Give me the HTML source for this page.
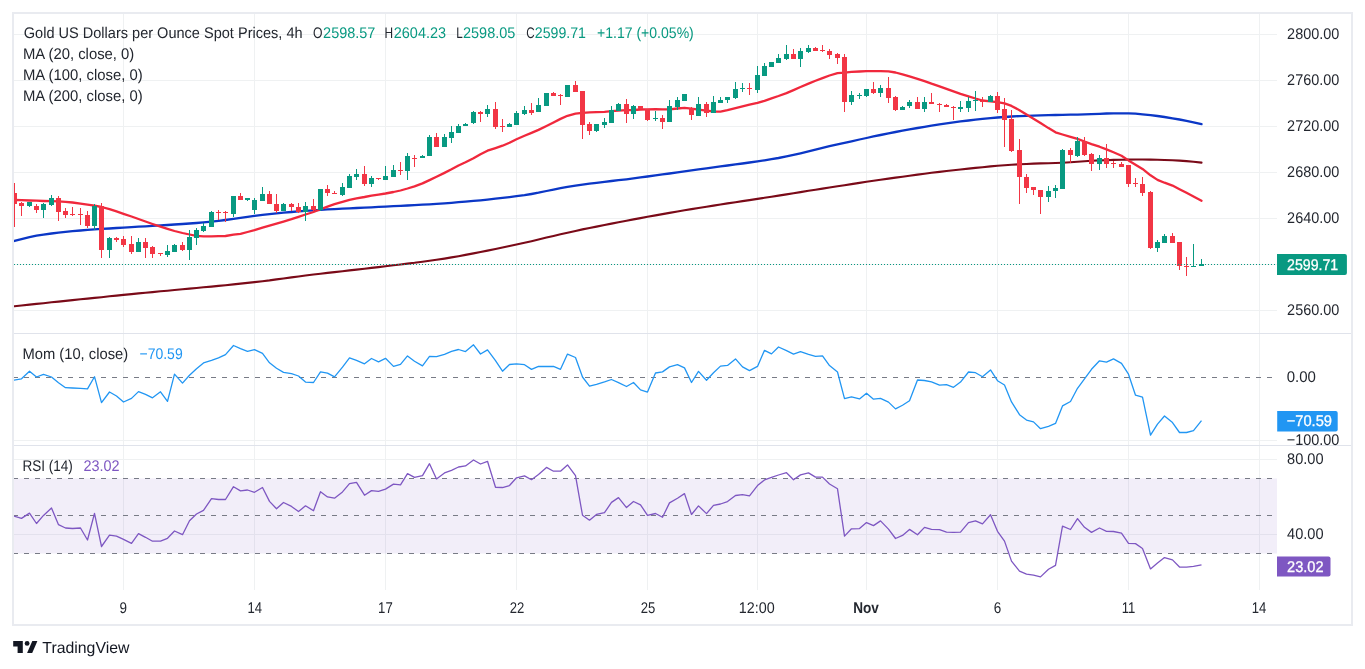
<!DOCTYPE html>
<html><head><meta charset="utf-8"><style>
html,body{margin:0;padding:0;background:#fff;width:1365px;height:669px;overflow:hidden}
svg{display:block;font-family:"Liberation Sans", sans-serif}
text{text-rendering:geometricPrecision}
svg{will-change:transform}
</style></head><body>
<svg width="1365" height="669" viewBox="0 0 1365 669">
<defs><clipPath id="cm"><rect x="14" y="14" width="1263" height="319"/></clipPath><clipPath id="cp"><rect x="14" y="334" width="1263" height="111"/></clipPath><clipPath id="cr"><rect x="14" y="446" width="1263" height="144"/></clipPath></defs>
<path d="M14 34.5H1277M14 80.5H1277M14 126.5H1277M14 172.5H1277M14 218.5H1277M14 264.5H1277M14 310.5H1277M14 440.5H1277M14 459.5H1277M14 534.5H1277M123.5 14V590M254.5 14V590M385.5 14V590M516.5 14V590M647.5 14V590M757.5 14V590M866.5 14V590M997.5 14V590M1128.5 14V590M1259.5 14V590" stroke="#eff1f2" stroke-width="1" fill="none"/>
<rect x="14" y="478.5" width="1263" height="75" fill="#7e57c2" fill-opacity="0.1"/>
<path d="M13 478.5H1277M13 515.5H1277M13 553.5H1277M13 377.5H1277" stroke="#787b86" stroke-width="1" stroke-dasharray="5 6"/>
<path d="M13 333.5H1352M13 445.5H1352" stroke="#e0e3eb" stroke-width="1"/>
<g clip-path="url(#cm)" fill="none" stroke-linejoin="round" stroke-linecap="round">
<path d="M12.0 306.5L14.5 306.2L21.5 305.5L29.5 304.6L36.5 303.9L43.5 303.2L51.5 302.3L58.5 301.6L65.5 300.9L72.5 300.1L80.5 299.3L87.5 298.6L94.5 297.9L101.5 297.2L109.5 296.3L116.5 295.6L123.5 294.9L131.5 294.1L138.5 293.4L145.5 292.7L152.5 292.1L160.5 291.3L167.5 290.7L174.5 290.0L182.5 289.3L189.5 288.6L196.5 288.0L203.5 287.3L211.5 286.6L218.5 285.9L225.5 285.2L233.5 284.4L240.5 283.6L247.5 282.9L254.5 282.1L262.5 281.2L269.5 280.4L276.5 279.4L283.5 278.5L291.5 277.4L298.5 276.5L305.5 275.5L313.5 274.5L320.5 273.7L327.5 272.9L334.5 272.1L342.5 271.2L349.5 270.4L356.5 269.6L364.5 268.7L371.5 267.9L378.5 267.1L385.5 266.2L393.5 265.3L400.5 264.5L407.5 263.6L414.5 262.8L422.5 261.7L429.5 260.8L436.5 259.8L444.5 258.6L451.5 257.4L458.5 256.2L465.5 254.9L473.5 253.4L480.5 252.0L487.5 250.6L495.5 249.0L502.5 247.5L509.5 246.0L516.5 244.5L524.5 242.8L531.5 241.2L538.5 239.6L546.5 237.6L553.5 236.0L560.5 234.3L567.5 232.7L575.5 230.9L582.5 229.4L589.5 228.0L596.5 226.6L604.5 225.0L611.5 223.6L618.5 222.2L626.5 220.7L633.5 219.4L640.5 218.1L647.5 216.8L655.5 215.4L662.5 214.1L669.5 212.9L677.5 211.5L684.5 210.3L691.5 209.1L698.5 208.0L706.5 206.7L713.5 205.6L720.5 204.5L727.5 203.4L735.5 202.2L742.5 201.1L749.5 200.1L757.5 198.9L764.5 197.8L771.5 196.7L778.5 195.6L786.5 194.4L793.5 193.3L800.5 192.1L808.5 190.8L815.5 189.7L822.5 188.6L829.5 187.5L837.5 186.3L844.5 185.2L851.5 184.1L859.5 182.9L866.5 181.8L873.5 180.8L880.5 179.7L888.5 178.6L895.5 177.6L902.5 176.7L909.5 175.7L917.5 174.6L924.5 173.7L931.5 172.8L939.5 171.9L946.5 171.0L953.5 170.2L960.5 169.5L968.5 168.6L975.5 167.9L982.5 167.2L990.5 166.4L997.5 165.8L1004.5 165.3L1011.5 164.8L1019.5 164.3L1026.5 164.0L1033.5 163.6L1040.5 163.4L1048.5 163.2L1055.5 163.0L1062.5 162.7L1070.5 162.3L1077.5 161.8L1084.5 161.2L1091.5 160.8L1099.5 160.4L1106.5 160.2L1113.5 159.9L1121.5 159.7L1128.5 159.6L1135.5 159.5L1142.5 159.5L1150.5 159.6L1157.5 159.8L1164.5 160.0L1172.5 160.3L1179.5 160.6L1186.5 161.1L1193.5 161.7L1201.5 162.6" stroke="#7a0a18" stroke-width="2.1"/>
<path d="M12.0 241.6L14.5 240.9L21.5 239.1L29.5 237.1L36.5 235.7L43.5 234.6L51.5 233.5L58.5 232.6L65.5 231.9L72.5 231.2L80.5 230.5L87.5 229.9L94.5 229.4L101.5 228.9L109.5 228.5L116.5 228.0L123.5 227.6L131.5 227.1L138.5 226.7L145.5 226.3L152.5 225.9L160.5 225.4L167.5 225.0L174.5 224.5L182.5 224.0L189.5 223.5L196.5 223.0L203.5 222.4L211.5 221.7L218.5 220.9L225.5 220.0L233.5 218.8L240.5 217.8L247.5 216.8L254.5 215.8L262.5 214.9L269.5 214.2L276.5 213.4L283.5 212.7L291.5 212.0L298.5 211.4L305.5 210.8L313.5 210.3L320.5 209.8L327.5 209.4L334.5 209.1L342.5 208.7L349.5 208.3L356.5 208.0L364.5 207.7L371.5 207.3L378.5 206.9L385.5 206.6L393.5 206.2L400.5 205.9L407.5 205.5L414.5 205.1L422.5 204.7L429.5 204.3L436.5 203.8L444.5 203.3L451.5 202.8L458.5 202.2L465.5 201.6L473.5 200.9L480.5 200.3L487.5 199.6L495.5 198.7L502.5 197.9L509.5 197.1L516.5 196.2L524.5 195.2L531.5 194.0L538.5 192.7L546.5 191.0L553.5 189.6L560.5 188.2L567.5 186.9L575.5 185.6L582.5 184.6L589.5 183.7L596.5 182.8L604.5 181.9L611.5 181.0L618.5 180.2L626.5 179.3L633.5 178.4L640.5 177.4L647.5 176.5L655.5 175.4L662.5 174.4L669.5 173.5L677.5 172.3L684.5 171.4L691.5 170.4L698.5 169.4L706.5 168.3L713.5 167.3L720.5 166.4L727.5 165.5L735.5 164.4L742.5 163.5L749.5 162.5L757.5 161.4L764.5 160.3L771.5 159.2L778.5 158.0L786.5 156.4L793.5 154.9L800.5 153.3L808.5 151.4L815.5 149.6L822.5 147.9L829.5 146.2L837.5 144.4L844.5 142.9L851.5 141.3L859.5 139.5L866.5 138.0L873.5 136.4L880.5 135.0L888.5 133.4L895.5 132.0L902.5 130.7L909.5 129.4L917.5 128.0L924.5 126.8L931.5 125.6L939.5 124.3L946.5 123.3L953.5 122.3L960.5 121.4L968.5 120.5L975.5 119.7L982.5 118.9L990.5 118.1L997.5 117.5L1004.5 117.0L1011.5 116.5L1019.5 116.1L1026.5 115.9L1033.5 115.6L1040.5 115.4L1048.5 115.2L1055.5 115.0L1062.5 114.9L1070.5 114.7L1077.5 114.6L1084.5 114.4L1091.5 114.2L1099.5 113.8L1106.5 113.5L1113.5 113.3L1121.5 113.3L1128.5 113.3L1135.5 113.6L1142.5 114.3L1150.5 115.1L1157.5 116.0L1164.5 117.0L1172.5 118.3L1179.5 119.5L1186.5 120.9L1193.5 122.3L1201.5 124.2" stroke="#0b37c6" stroke-width="2.3"/>
<path d="M12.0 199.9L14.5 200.0L21.5 200.2L29.5 200.5L36.5 200.7L43.5 201.0L51.5 201.2L58.5 201.4L65.5 201.8L72.5 202.5L80.5 203.6L87.5 204.6L94.5 205.7L101.5 207.0L109.5 209.1L116.5 211.4L123.5 213.8L131.5 216.5L138.5 219.0L145.5 221.5L152.5 224.0L160.5 226.7L167.5 228.9L174.5 231.0L182.5 233.0L189.5 234.5L196.5 235.9L203.5 236.4L211.5 236.3L218.5 236.2L225.5 236.0L233.5 234.7L240.5 233.9L247.5 232.0L254.5 230.1L262.5 227.6L269.5 225.6L276.5 223.6L283.5 221.6L291.5 219.2L298.5 216.9L305.5 214.5L313.5 212.0L320.5 209.3L327.5 206.6L334.5 204.2L342.5 201.9L349.5 199.9L356.5 198.4L364.5 197.0L371.5 195.6L378.5 194.6L385.5 193.5L393.5 192.0L400.5 190.5L407.5 188.5L414.5 186.3L422.5 183.4L429.5 180.1L436.5 176.8L444.5 172.9L451.5 169.3L458.5 165.5L465.5 162.3L473.5 158.3L480.5 154.2L487.5 150.7L495.5 148.1L502.5 145.7L509.5 142.7L516.5 139.3L524.5 135.8L531.5 132.9L538.5 129.9L546.5 126.0L553.5 122.4L560.5 118.9L567.5 115.8L575.5 113.7L582.5 112.8L589.5 112.4L596.5 112.1L604.5 111.8L611.5 111.2L618.5 110.6L626.5 110.2L633.5 110.0L640.5 109.5L647.5 109.3L655.5 109.2L662.5 109.4L669.5 109.3L677.5 108.5L684.5 107.9L691.5 108.7L698.5 109.7L706.5 110.7L713.5 111.5L720.5 111.7L727.5 110.2L735.5 108.1L742.5 106.4L749.5 104.7L757.5 102.8L764.5 100.8L771.5 98.3L778.5 96.0L786.5 93.1L793.5 90.1L800.5 87.0L808.5 83.6L815.5 80.8L822.5 78.1L829.5 75.5L837.5 73.1L844.5 72.7L851.5 71.9L859.5 71.5L866.5 71.2L873.5 71.1L880.5 71.1L888.5 71.3L895.5 72.5L902.5 74.4L909.5 76.4L917.5 78.8L924.5 81.2L931.5 83.7L939.5 86.3L946.5 88.9L953.5 91.4L960.5 93.9L968.5 96.3L975.5 98.5L982.5 100.5L990.5 101.3L997.5 102.2L1004.5 103.3L1011.5 105.9L1019.5 110.2L1026.5 114.5L1033.5 118.7L1040.5 123.0L1048.5 128.1L1055.5 132.3L1062.5 134.5L1070.5 136.9L1077.5 138.9L1084.5 141.5L1091.5 144.1L1099.5 146.7L1106.5 149.4L1113.5 152.3L1121.5 155.8L1128.5 160.4L1135.5 164.7L1142.5 168.9L1150.5 175.3L1157.5 179.9L1164.5 182.7L1172.5 185.6L1179.5 189.2L1186.5 192.7L1193.5 196.4L1201.5 200.7" stroke="#f0283c" stroke-width="2.3"/>
</g>
<g clip-path="url(#cm)">
<path d="M29 202h1V207h-1ZM27 202h5V206h-5ZM43 203h1V218h-1ZM41 204h5V210h-5ZM51 195h1V206h-1ZM49 198h5V205h-5ZM94 204h1V230h-1ZM92 206h5V226h-5ZM109 237h1V258h-1ZM107 238h5V250h-5ZM138 238h1V252h-1ZM136 242h5V252h-5ZM167 245h1V257h-1ZM165 251h5V255h-5ZM174 244h1V252h-1ZM172 245h5V252h-5ZM189 230h1V260h-1ZM187 237h5V250h-5ZM196 228h1V245h-1ZM194 230h5V238h-5ZM203 223h1V232h-1ZM201 226h5V231h-5ZM211 211h1V227h-1ZM209 212h5V227h-5ZM233 196h1V217h-1ZM231 196h5V214h-5ZM247 198h1V201h-1ZM245 198h5V200h-5ZM254 198h1V214h-1ZM252 200h5V210h-5ZM262 187h1V201h-1ZM260 194h5V201h-5ZM283 203h1V211h-1ZM281 204h5V211h-5ZM305 202h1V221h-1ZM303 206h5V212h-5ZM320 189h1V211h-1ZM318 189h5V210h-5ZM342 183h1V196h-1ZM340 187h5V195h-5ZM349 174h1V188h-1ZM347 176h5V188h-5ZM356 169h1V180h-1ZM354 174h5V177h-5ZM371 176h1V187h-1ZM369 178h5V184h-5ZM385 166h1V180h-1ZM383 176h5V180h-5ZM393 165h1V177h-1ZM391 170h5V177h-5ZM407 153h1V180h-1ZM405 156h5V171h-5ZM422 155h1V158h-1ZM420 156h5V158h-5ZM429 135h1V156h-1ZM427 137h5V156h-5ZM444 134h1V147h-1ZM442 137h5V147h-5ZM451 126h1V143h-1ZM449 132h5V138h-5ZM458 124h1V133h-1ZM456 126h5V133h-5ZM465 123h1V126h-1ZM463 124h5V126h-5ZM473 111h1V124h-1ZM471 112h5V123h-5ZM487 105h1V117h-1ZM485 109h5V114h-5ZM509 123h1V127h-1ZM507 124h5V127h-5ZM516 111h1V125h-1ZM514 113h5V125h-5ZM524 106h1V115h-1ZM522 110h5V114h-5ZM538 98h1V112h-1ZM536 105h5V112h-5ZM546 93h1V106h-1ZM544 93h5V106h-5ZM567 85h1V97h-1ZM565 85h5V97h-5ZM596 124h1V132h-1ZM594 124h5V131h-5ZM604 118h1V128h-1ZM602 122h5V125h-5ZM611 106h1V123h-1ZM609 110h5V123h-5ZM618 103h1V111h-1ZM616 104h5V111h-5ZM633 105h1V119h-1ZM631 106h5V114h-5ZM655 111h1V121h-1ZM653 118h5V119h-5ZM669 100h1V122h-1ZM667 106h5V122h-5ZM677 97h1V110h-1ZM675 100h5V107h-5ZM684 94h1V101h-1ZM682 94h5V101h-5ZM698 97h1V116h-1ZM696 104h5V116h-5ZM713 96h1V113h-1ZM711 102h5V113h-5ZM720 97h1V103h-1ZM718 100h5V103h-5ZM727 97h1V103h-1ZM725 97h5V100h-5ZM735 82h1V99h-1ZM733 89h5V98h-5ZM742 83h1V92h-1ZM740 88h5V89h-5ZM757 66h1V93h-1ZM755 75h5V90h-5ZM764 63h1V76h-1ZM762 66h5V76h-5ZM771 62h1V67h-1ZM769 62h5V67h-5ZM778 54h1V63h-1ZM776 58h5V63h-5ZM786 45h1V60h-1ZM784 54h5V59h-5ZM800 48h1V67h-1ZM798 51h5V59h-5ZM808 45h1V53h-1ZM806 48h5V52h-5ZM851 91h1V105h-1ZM849 95h5V102h-5ZM859 93h1V99h-1ZM857 95h5V96h-5ZM866 89h1V97h-1ZM864 89h5V96h-5ZM880 85h1V97h-1ZM878 88h5V93h-5ZM902 106h1V110h-1ZM900 107h5V110h-5ZM909 100h1V108h-1ZM907 102h5V106h-5ZM924 97h1V112h-1ZM922 102h5V109h-5ZM960 101h1V112h-1ZM958 107h5V109h-5ZM968 97h1V112h-1ZM966 101h5V108h-5ZM975 91h1V111h-1ZM973 100h5V101h-5ZM990 95h1V102h-1ZM988 96h5V102h-5ZM1048 186h1V202h-1ZM1046 191h5V197h-5ZM1055 185h1V198h-1ZM1053 188h5V191h-5ZM1062 149h1V189h-1ZM1060 150h5V189h-5ZM1077 137h1V157h-1ZM1075 141h5V156h-5ZM1099 155h1V170h-1ZM1097 158h5V164h-5ZM1157 240h1V252h-1ZM1155 242h5V248h-5ZM1164 234h1V243h-1ZM1162 236h5V243h-5ZM1193 244h1V267h-1ZM1191 266h5V267h-5ZM1201 259h1V266h-1ZM1199 264h5V266h-5Z" fill="#089981"/>
<path d="M14 183h1V227h-1ZM12 193h5V204h-5ZM21 202h1V216h-1ZM19 203h5V206h-5ZM36 204h1V213h-1ZM34 206h5V210h-5ZM58 196h1V221h-1ZM56 198h5V212h-5ZM65 208h1V218h-1ZM63 211h5V215h-5ZM72 207h1V216h-1ZM70 214h5V215h-5ZM80 208h1V225h-1ZM78 214h5V215h-5ZM87 211h1V228h-1ZM85 215h5V226h-5ZM101 203h1V258h-1ZM99 206h5V250h-5ZM116 237h1V242h-1ZM114 238h5V240h-5ZM123 236h1V247h-1ZM121 239h5V245h-5ZM131 236h1V254h-1ZM129 244h5V252h-5ZM145 238h1V258h-1ZM143 242h5V248h-5ZM152 246h1V258h-1ZM150 247h5V254h-5ZM160 253h1V256h-1ZM158 253h5V254h-5ZM182 242h1V251h-1ZM180 245h5V250h-5ZM218 210h1V220h-1ZM216 212h5V213h-5ZM225 211h1V222h-1ZM223 212h5V213h-5ZM240 193h1V200h-1ZM238 196h5V200h-5ZM269 191h1V204h-1ZM267 194h5V204h-5ZM276 194h1V213h-1ZM274 204h5V211h-5ZM291 203h1V211h-1ZM289 204h5V207h-5ZM298 203h1V213h-1ZM296 207h5V212h-5ZM313 199h1V211h-1ZM311 206h5V210h-5ZM327 185h1V196h-1ZM325 189h5V193h-5ZM334 191h1V194h-1ZM332 193h5V194h-5ZM364 166h1V186h-1ZM362 174h5V184h-5ZM378 178h1V180h-1ZM376 178h5V179h-5ZM400 162h1V175h-1ZM398 170h5V171h-5ZM414 155h1V167h-1ZM412 158h5V159h-5ZM436 133h1V147h-1ZM434 137h5V147h-5ZM480 111h1V122h-1ZM478 112h5V114h-5ZM495 102h1V129h-1ZM493 109h5V127h-5ZM502 119h1V132h-1ZM500 126h5V127h-5ZM531 103h1V115h-1ZM529 110h5V113h-5ZM553 92h1V96h-1ZM551 93h5V96h-5ZM560 94h1V105h-1ZM558 95h5V96h-5ZM575 81h1V92h-1ZM573 85h5V92h-5ZM582 91h1V139h-1ZM580 91h5V125h-5ZM589 122h1V135h-1ZM587 124h5V131h-5ZM626 99h1V123h-1ZM624 104h5V114h-5ZM640 106h1V109h-1ZM638 106h5V109h-5ZM647 109h1V121h-1ZM645 109h5V120h-5ZM662 115h1V129h-1ZM660 118h5V122h-5ZM691 107h1V120h-1ZM689 108h5V115h-5ZM706 102h1V117h-1ZM704 104h5V113h-5ZM749 83h1V95h-1ZM747 88h5V89h-5ZM793 49h1V59h-1ZM791 54h5V59h-5ZM815 47h1V51h-1ZM813 48h5V51h-5ZM822 45h1V52h-1ZM820 50h5V51h-5ZM829 49h1V59h-1ZM827 51h5V55h-5ZM837 53h1V64h-1ZM835 54h5V58h-5ZM844 54h1V112h-1ZM842 57h5V102h-5ZM873 82h1V94h-1ZM871 89h5V93h-5ZM888 77h1V103h-1ZM886 88h5V98h-5ZM895 96h1V111h-1ZM893 97h5V110h-5ZM917 97h1V109h-1ZM915 102h5V109h-5ZM931 93h1V104h-1ZM929 102h5V104h-5ZM939 103h1V112h-1ZM937 104h5V105h-5ZM946 104h1V107h-1ZM944 105h5V107h-5ZM953 106h1V120h-1ZM951 107h5V108h-5ZM982 97h1V107h-1ZM980 101h5V102h-5ZM997 92h1V113h-1ZM995 96h5V110h-5ZM1004 98h1V147h-1ZM1002 109h5V120h-5ZM1011 110h1V152h-1ZM1009 119h5V151h-5ZM1019 139h1V204h-1ZM1017 150h5V177h-5ZM1026 174h1V193h-1ZM1024 177h5V188h-5ZM1033 187h1V195h-1ZM1031 187h5V190h-5ZM1040 190h1V214h-1ZM1038 190h5V197h-5ZM1070 148h1V163h-1ZM1068 150h5V155h-5ZM1084 137h1V156h-1ZM1082 141h5V155h-5ZM1091 153h1V171h-1ZM1089 154h5V164h-5ZM1106 144h1V168h-1ZM1104 158h5V164h-5ZM1113 161h1V168h-1ZM1111 163h5V164h-5ZM1121 162h1V167h-1ZM1119 164h5V167h-5ZM1128 165h1V187h-1ZM1126 165h5V184h-5ZM1135 178h1V187h-1ZM1133 183h5V184h-5ZM1142 177h1V196h-1ZM1140 184h5V193h-5ZM1150 191h1V249h-1ZM1148 192h5V248h-5ZM1172 233h1V243h-1ZM1170 236h5V243h-5ZM1179 242h1V270h-1ZM1177 242h5V266h-5ZM1186 257h1V276h-1ZM1184 266h5V267h-5Z" fill="#f23645"/>
</g>
<path d="M14 264.5H1277" stroke="#089981" stroke-width="1" stroke-dasharray="1 2"/>
<g clip-path="url(#cp)"><path d="M12.0 380.4L21.5 378.8L29.5 371.3L36.5 377.0L43.5 374.3L51.5 377.0L58.5 382.7L65.5 387.7L72.5 388.0L80.5 388.3L87.5 388.9L94.5 376.7L101.5 402.7L109.5 392.0L116.5 396.0L123.5 402.0L131.5 398.4L138.5 391.6L145.5 394.3L152.5 397.8L160.5 391.8L167.5 401.4L174.5 374.1L182.5 383.1L189.5 375.3L196.5 368.7L203.5 362.9L211.5 360.4L218.5 357.9L225.5 354.6L233.5 345.5L240.5 348.6L247.5 351.3L254.5 349.7L262.5 353.4L269.5 362.8L276.5 368.3L283.5 372.4L291.5 373.7L298.5 376.0L305.5 382.1L313.5 382.5L320.5 371.8L327.5 373.1L334.5 376.9L342.5 367.2L349.5 357.9L356.5 360.4L364.5 363.8L371.5 358.5L378.5 361.8L385.5 358.3L393.5 366.4L400.5 364.4L407.5 355.9L414.5 361.2L422.5 365.9L429.5 356.4L436.5 356.6L444.5 354.3L451.5 351.4L458.5 349.5L465.5 351.6L473.5 344.8L480.5 354.0L487.5 349.9L495.5 360.6L502.5 371.2L509.5 364.5L516.5 363.8L524.5 364.7L531.5 369.4L538.5 366.3L546.5 366.5L553.5 366.4L560.5 369.3L567.5 354.1L575.5 357.5L582.5 377.0L589.5 386.2L596.5 384.3L604.5 381.9L611.5 379.5L618.5 382.6L626.5 386.5L633.5 382.5L640.5 389.9L647.5 392.1L655.5 373.0L662.5 371.9L669.5 366.9L677.5 364.6L684.5 367.9L691.5 382.5L698.5 371.4L706.5 380.2L713.5 372.8L720.5 366.1L727.5 365.4L735.5 358.9L742.5 366.9L749.5 370.6L757.5 366.4L764.5 350.3L771.5 353.9L778.5 347.0L786.5 350.6L793.5 354.1L800.5 351.7L808.5 354.4L815.5 356.4L822.5 355.9L829.5 365.6L837.5 372.0L844.5 398.7L851.5 396.9L859.5 398.9L866.5 393.2L873.5 399.2L880.5 398.4L888.5 402.1L895.5 408.9L902.5 405.2L909.5 400.8L917.5 380.0L924.5 380.5L931.5 381.9L939.5 385.2L946.5 384.7L953.5 387.3L960.5 382.1L968.5 372.0L975.5 372.7L982.5 376.8L990.5 369.9L997.5 380.7L1004.5 385.0L1011.5 401.9L1019.5 414.7L1026.5 420.1L1033.5 421.9L1040.5 428.7L1048.5 426.3L1055.5 423.4L1062.5 405.9L1070.5 401.5L1077.5 388.3L1084.5 378.8L1091.5 369.3L1099.5 360.8L1106.5 362.1L1113.5 358.9L1121.5 363.4L1128.5 374.2L1135.5 395.2L1142.5 397.1L1150.5 435.1L1157.5 424.1L1164.5 416.0L1172.5 422.6L1179.5 432.5L1186.5 432.5L1193.5 430.7L1201.5 420.7" stroke="#2196f3" stroke-width="1.3" fill="none" stroke-linejoin="round"/></g>
<g clip-path="url(#cr)"><path d="M12.0 515.5L21.5 518.4L29.5 513.1L36.5 523.5L43.5 515.4L51.5 508.0L58.5 524.7L65.5 528.0L72.5 528.5L80.5 528.0L87.5 540.0L94.5 513.4L101.5 546.5L109.5 535.2L116.5 536.2L123.5 539.4L131.5 543.4L138.5 533.7L145.5 537.3L152.5 541.2L160.5 541.2L167.5 538.3L174.5 531.0L182.5 534.7L189.5 520.8L196.5 514.0L203.5 510.4L211.5 498.6L218.5 499.5L225.5 499.5L233.5 486.7L240.5 490.9L247.5 490.0L254.5 492.3L262.5 487.5L269.5 501.4L276.5 508.8L283.5 502.5L291.5 506.4L298.5 511.6L305.5 505.8L313.5 510.7L320.5 491.7L327.5 496.9L334.5 498.2L342.5 491.9L349.5 483.7L356.5 482.3L364.5 495.2L371.5 490.6L378.5 491.4L385.5 489.1L393.5 484.1L400.5 484.8L407.5 473.7L414.5 477.3L422.5 475.6L429.5 463.7L436.5 478.9L444.5 472.9L451.5 470.3L458.5 467.0L465.5 465.9L473.5 460.0L480.5 464.0L487.5 461.3L495.5 487.3L502.5 487.5L509.5 485.5L516.5 477.8L524.5 475.9L531.5 479.7L538.5 474.4L546.5 467.4L553.5 471.2L560.5 471.2L567.5 464.9L575.5 475.7L582.5 515.2L589.5 520.2L596.5 514.4L604.5 512.7L611.5 502.4L618.5 497.6L626.5 507.6L633.5 501.5L640.5 504.8L647.5 515.3L655.5 513.5L662.5 517.3L669.5 502.9L677.5 498.2L684.5 493.6L691.5 514.5L698.5 505.9L706.5 513.6L713.5 505.4L720.5 504.0L727.5 501.6L735.5 495.5L742.5 494.7L749.5 495.8L757.5 485.6L764.5 479.9L771.5 477.4L778.5 475.0L786.5 472.7L793.5 479.8L800.5 474.9L808.5 472.9L815.5 477.1L822.5 477.1L829.5 484.0L837.5 488.8L844.5 536.1L851.5 528.8L859.5 528.6L866.5 522.6L873.5 525.6L880.5 520.9L888.5 529.1L895.5 538.5L902.5 535.4L909.5 529.4L917.5 534.8L924.5 527.4L931.5 529.4L939.5 529.7L946.5 532.2L953.5 532.4L960.5 532.1L968.5 522.7L975.5 520.8L982.5 523.9L990.5 514.7L997.5 531.3L1004.5 541.1L1011.5 561.1L1019.5 571.2L1026.5 574.2L1033.5 575.1L1040.5 576.9L1048.5 569.3L1055.5 565.4L1062.5 526.2L1070.5 529.5L1077.5 518.6L1084.5 527.3L1091.5 532.4L1099.5 528.0L1106.5 531.3L1113.5 531.5L1121.5 533.2L1128.5 543.4L1135.5 543.6L1142.5 548.5L1150.5 568.9L1157.5 563.1L1164.5 557.6L1172.5 559.9L1179.5 567.0L1186.5 567.1L1193.5 566.4L1201.5 564.8" stroke="#7e57c2" stroke-width="1.3" fill="none" stroke-linejoin="round"/></g>
<text x="23.8" y="38" font-size="15.4" fill="#23272f" textLength="278.8" lengthAdjust="spacingAndGlyphs">Gold US Dollars per Ounce Spot Prices, 4h</text>
<text x="312.9" y="38" font-size="15.4" fill="#23272f" textLength="9.5" lengthAdjust="spacingAndGlyphs">O</text>
<text x="323.1" y="38" font-size="15.4" fill="#089981" textLength="52.3" lengthAdjust="spacingAndGlyphs">2598.57</text>
<text x="384.6" y="38" font-size="15.4" fill="#23272f" textLength="8.6" lengthAdjust="spacingAndGlyphs">H</text>
<text x="393.8" y="38" font-size="15.4" fill="#089981" textLength="52.2" lengthAdjust="spacingAndGlyphs">2604.23</text>
<text x="456.3" y="38" font-size="15.4" fill="#23272f" textLength="6.5" lengthAdjust="spacingAndGlyphs">L</text>
<text x="463" y="38" font-size="15.4" fill="#089981" textLength="52.4" lengthAdjust="spacingAndGlyphs">2598.05</text>
<text x="526.2" y="38" font-size="15.4" fill="#23272f" textLength="8.4" lengthAdjust="spacingAndGlyphs">C</text>
<text x="534.8" y="38" font-size="15.4" fill="#089981" textLength="51.2" lengthAdjust="spacingAndGlyphs">2599.71</text>
<text x="597" y="38" font-size="15.4" fill="#089981" textLength="96.8" lengthAdjust="spacingAndGlyphs">+1.17 (+0.05%)</text>
<text x="22.9" y="59" font-size="15.4" fill="#23272f" textLength="111.4" lengthAdjust="spacingAndGlyphs">MA (20, close, 0)</text>
<text x="22.9" y="80" font-size="15.4" fill="#23272f" textLength="119.8" lengthAdjust="spacingAndGlyphs">MA (100, close, 0)</text>
<text x="22.9" y="101" font-size="15.4" fill="#23272f" textLength="119.8" lengthAdjust="spacingAndGlyphs">MA (200, close, 0)</text>
<text x="22.4" y="358.7" font-size="15.4" fill="#23272f" textLength="105.8" lengthAdjust="spacingAndGlyphs">Mom (10, close)</text>
<text x="139.5" y="358.7" font-size="15.4" fill="#2196f3" textLength="43.2" lengthAdjust="spacingAndGlyphs">−70.59</text>
<text x="22.4" y="470.8" font-size="15.4" fill="#23272f" textLength="50.4" lengthAdjust="spacingAndGlyphs">RSI (14)</text>
<text x="83.4" y="470.8" font-size="15.4" fill="#7e57c2" textLength="36.2" lengthAdjust="spacingAndGlyphs">23.02</text>
<text x="1287.1" y="38.800000000000004" font-size="15.5" fill="#23272f" textLength="52.2" lengthAdjust="spacingAndGlyphs">2800.00</text>
<text x="1287.1" y="84.8" font-size="15.5" fill="#23272f" textLength="52.2" lengthAdjust="spacingAndGlyphs">2760.00</text>
<text x="1287.1" y="130.5" font-size="15.5" fill="#23272f" textLength="52.2" lengthAdjust="spacingAndGlyphs">2720.00</text>
<text x="1287.1" y="176.7" font-size="15.5" fill="#23272f" textLength="52.2" lengthAdjust="spacingAndGlyphs">2680.00</text>
<text x="1287.1" y="222.6" font-size="15.5" fill="#23272f" textLength="52.2" lengthAdjust="spacingAndGlyphs">2640.00</text>
<text x="1287.1" y="314.8" font-size="15.5" fill="#23272f" textLength="52.2" lengthAdjust="spacingAndGlyphs">2560.00</text>
<path d="M1277 254H1344.9a2 2 0 0 1 2 2V272.9a2 2 0 0 1 -2 2H1277Z" fill="#089981"/>
<text x="1287.1" y="270.1" font-size="15.5" fill="#ffffff" textLength="51.1" lengthAdjust="spacingAndGlyphs" stroke="#fff" stroke-width="0.3">2599.71</text>
<text x="1286.7" y="382.1" font-size="15.5" fill="#23272f" textLength="29.2" lengthAdjust="spacingAndGlyphs">0.00</text>
<path d="M1277.2 411H1335.7a2 2 0 0 1 2 2V429.6a2 2 0 0 1 -2 2H1277.2Z" fill="#2196f3"/>
<text x="1286.7" y="426.3" font-size="15.5" fill="#ffffff" textLength="45.3" lengthAdjust="spacingAndGlyphs" stroke="#fff" stroke-width="0.3">−70.59</text>
<text x="1286.7" y="444.6" font-size="15.5" fill="#23272f" textLength="52.7" lengthAdjust="spacingAndGlyphs">−100.00</text>
<text x="1287.1" y="464" font-size="15.5" fill="#23272f" textLength="36.5" lengthAdjust="spacingAndGlyphs">80.00</text>
<text x="1287.1" y="538.9" font-size="15.5" fill="#23272f" textLength="36.5" lengthAdjust="spacingAndGlyphs">40.00</text>
<path d="M1277 556.6H1328.5a2 2 0 0 1 2 2V574.4a2 2 0 0 1 -2 2H1277Z" fill="#7e57c2"/>
<text x="1287.1" y="572.1" font-size="15.5" fill="#ffffff" textLength="36.5" lengthAdjust="spacingAndGlyphs" stroke="#fff" stroke-width="0.3">23.02</text>
<text x="123.3" y="613" font-size="15.5" fill="#23272f" text-anchor="middle" textLength="7.5" lengthAdjust="spacingAndGlyphs">9</text>
<text x="254.7" y="613" font-size="15.5" fill="#23272f" text-anchor="middle" textLength="14.6" lengthAdjust="spacingAndGlyphs">14</text>
<text x="385.4" y="613" font-size="15.5" fill="#23272f" text-anchor="middle" textLength="14.6" lengthAdjust="spacingAndGlyphs">17</text>
<text x="517" y="613" font-size="15.5" fill="#23272f" text-anchor="middle" textLength="14.6" lengthAdjust="spacingAndGlyphs">22</text>
<text x="648" y="613" font-size="15.5" fill="#23272f" text-anchor="middle" textLength="14.6" lengthAdjust="spacingAndGlyphs">25</text>
<text x="756.8" y="613" font-size="15.5" fill="#23272f" text-anchor="middle" textLength="35.9" lengthAdjust="spacingAndGlyphs">12:00</text>
<text x="866" y="613" font-size="15.5" fill="#23272f" text-anchor="middle" font-weight="bold" textLength="25.7" lengthAdjust="spacingAndGlyphs">Nov</text>
<text x="997.5" y="613" font-size="15.5" fill="#23272f" text-anchor="middle" textLength="7.5" lengthAdjust="spacingAndGlyphs">6</text>
<text x="1128.5" y="613" font-size="15.5" fill="#23272f" text-anchor="middle" textLength="13.6" lengthAdjust="spacingAndGlyphs">11</text>
<text x="1259" y="613" font-size="15.5" fill="#23272f" text-anchor="middle" textLength="14.6" lengthAdjust="spacingAndGlyphs">14</text>
<rect x="13" y="13" width="1339" height="612" fill="none" stroke="#e9ebf0" stroke-width="2"/>
<g fill="#131722"><path d="M13.2 641H22.8V653H17.6V646.4H13.2Z"/><circle cx="27.1" cy="643.4" r="2.4"/><path d="M32.3 641H37.4L32.2 653H27.1Z"/></g>
<text x="42.3" y="653" font-size="16" fill="#131722" textLength="87.1" lengthAdjust="spacingAndGlyphs">TradingView</text>
</svg>
</body></html>
